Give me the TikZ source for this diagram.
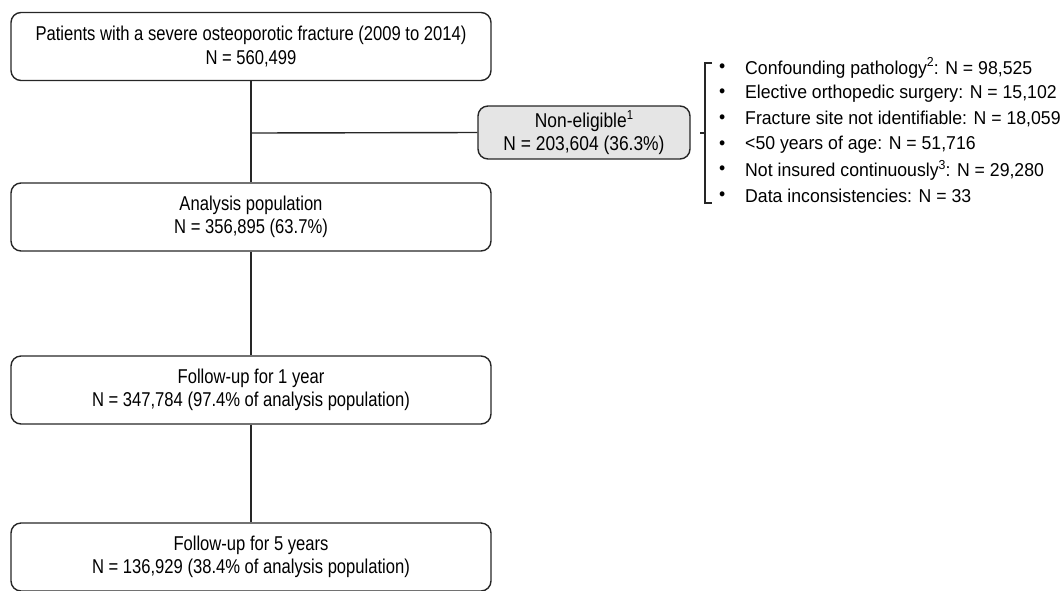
\documentclass[tikz,border=0pt]{standalone}
\usepackage{fontspec}
\setmainfont{Liberation Sans}
\newfontfamily\boxfont[FakeStretch=0.83]{Liberation Sans}
\newfontfamily\nefont[FakeStretch=0.87]{Liberation Sans}
\newfontfamily\itemfont[FakeStretch=0.95]{Liberation Sans}
\newcommand{\mysupx}[1]{\raisebox{0.40em}{\fontsize{13}{13}\selectfont #1}}
\begin{document}
\begin{tikzpicture}[x=1pt,y=-1pt,
  box/.style={draw=black!85, line width=1.4pt, rounded corners=10pt, minimum width=480pt, minimum height=68pt, align=center, font=\boxfont\fontsize{20}{23.5}\selectfont, inner sep=0pt},
  grey/.style={box, fill=black!10, minimum width=212pt, minimum height=53pt, font=\nefont\fontsize{20}{23}\selectfont},
  conn/.style={draw=black!85, line width=1.4pt},
  item/.style={anchor=west, font=\itemfont\fontsize{18.6}{20}\selectfont, inner sep=0pt}
]
\useasboundingbox (0,0) rectangle (1064,590);
\node[box] (top) at (251,46.5) {Patients with a severe osteoporotic fracture (2009 to 2014)\\N = 560,499};
\node[box] (ana) at (251,217) {Analysis population\\N = 356,895 (63.7\%)};
\node[box] (f1) at (251,390) {Follow-up for 1 year\\N = 347,784 (97.4\% of analysis population)};
\node[box] (f5) at (251,557) {Follow-up for 5 years\\N = 136,929 (38.4\% of analysis population)};
\node[grey] (ne) at (584,132.5) {Non-eligible\mysupx{1}\\N = 203,604 (36.3\%)};
\draw[conn] (top) -- (ana);
\draw[conn] (ana) -- (f1);
\draw[conn] (f1) -- (f5);
\coordinate (br) at (252,133);
\draw[conn] (br) -- (ne.west);
\coordinate (bt) at (712,63);
\coordinate (bb) at (712,203);
\coordinate (bm) at (700,133);
\draw[conn] (bt) -- ++(-7,0) |- (bb);
\draw[conn] (bm) -- (705,133);
\foreach \t [count=\i] in {
  {Confounding pathology\mysupx{2}: N = 98,525},
  {Elective orthopedic surgery: N = 15,102},
  {Fracture site not identifiable: N = 18,059},
  {<50 years of age: N = 51,716},
  {Not insured continuously\mysupx{3}: N = 29,280},
  {Data inconsistencies: N = 33}}{
  \node[item] (b\i) at (719,{68+25.6*(\i-1)}) {•};
  \node[item] (t\i) at (745,{68+25.6*(\i-1)}) {\t};
}
\end{tikzpicture}
\end{document}
